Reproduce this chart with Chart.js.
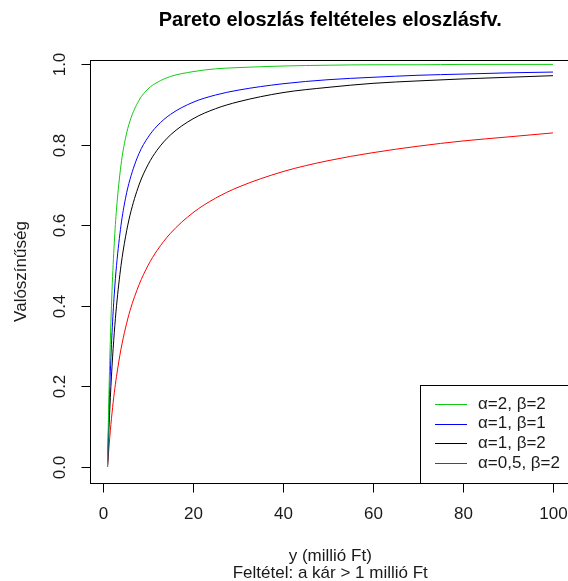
<!DOCTYPE html>
<html>
<head>
<meta charset="utf-8">
<script src="https://cdn.jsdelivr.net/npm/chart.js@4.4.1/dist/chart.umd.min.js"></script>
<style>
html, body { margin: 0; padding: 0; background: #fff; overflow: hidden; }
#wrap { width: 574px; height: 581px; }
</style>
</head>
<body>
<div id="wrap"><canvas id="chart" width="574" height="581"></canvas></div>
<script>
const yPoints = [1, 1.25, 1.5, 2, 2.5, 3, 4, 5, 6, 8, 10, 12, 15, 20, 25, 30, 40, 50, 60, 70, 80, 90, 100];

// conditional CDF values
const a2b2   = [0, 0.148, 0.265, 0.438, 0.556, 0.640, 0.750, 0.816, 0.859, 0.910, 0.938, 0.954, 0.969, 0.981, 0.988, 0.991, 0.995, 0.997, 0.998, 0.998, 0.999, 0.999, 0.999];
const a1b1   = [0, 0.111, 0.200, 0.333, 0.429, 0.500, 0.600, 0.667, 0.714, 0.778, 0.818, 0.846, 0.875, 0.905, 0.923, 0.935, 0.951, 0.961, 0.967, 0.972, 0.975, 0.978, 0.980];
const a1b2   = [0, 0.077, 0.143, 0.250, 0.333, 0.400, 0.500, 0.571, 0.625, 0.700, 0.750, 0.786, 0.824, 0.864, 0.889, 0.906, 0.929, 0.942, 0.952, 0.958, 0.963, 0.967, 0.971];
const a05b2  = [0, 0.039, 0.074, 0.134, 0.184, 0.225, 0.293, 0.345, 0.388, 0.452, 0.500, 0.537, 0.580, 0.631, 0.667, 0.694, 0.733, 0.760, 0.780, 0.796, 0.809, 0.819, 0.829];

const seriesNames = ['\u03b1=2, \u03b2=2', '\u03b1=1, \u03b2=1', '\u03b1=1, \u03b2=2', '\u03b1=0,5, \u03b2=2'];
const seriesColors = ['#10cc10', '#0000ff', '#000000', '#ff0000'];

const xTicks = [0, 20, 40, 60, 80, 100];
const yTicks = [0, 0.2, 0.4, 0.6, 0.8, 1.0];
const yTickLabels = ['0.0', '0.2', '0.4', '0.6', '0.8', '1.0'];

function toPoints(vals) {
    return yPoints.map((x, i) => ({ x: x, y: vals[i] }));
}

const FONT = '"Liberation Sans", Arial, sans-serif';
const TEXT = '#1a1a1a';

// R-style box, axes, titles and legend
const rStyle = {
    id: 'rStyle',
    afterDraw(chart) {
        const ctx = chart.ctx;
        const a = chart.chartArea;
        const xs = chart.scales.x;
        const ys = chart.scales.y;
        ctx.save();
        ctx.strokeStyle = '#000';
        ctx.lineWidth = 1;

        const L = Math.round(a.left) + 0.5, T = Math.round(a.top) + 0.5;
        const R = Math.round(a.right) + 0.5, B = Math.round(a.bottom) + 0.5;
        ctx.strokeRect(L, T, R - L, B - T);

        // x axis
        ctx.fillStyle = TEXT;
        ctx.font = '17px ' + FONT;
        ctx.textAlign = 'center';
        ctx.textBaseline = 'middle';
        xTicks.forEach(v => {
            const px = Math.round(xs.getPixelForValue(v)) + 0.5;
            ctx.beginPath();
            ctx.moveTo(px, B);
            ctx.lineTo(px, B + 9);
            ctx.stroke();
            ctx.fillText(String(v), px, B + 31);
        });

        // y axis (labels rotated like R)
        yTicks.forEach((v, i) => {
            const py = Math.round(ys.getPixelForValue(v)) + 0.5;
            ctx.beginPath();
            ctx.moveTo(L, py);
            ctx.lineTo(L - 9, py);
            ctx.stroke();
            ctx.save();
            ctx.translate(L - 30, py);
            ctx.rotate(-Math.PI / 2);
            ctx.fillText(yTickLabels[i], 0, 0);
            ctx.restore();
        });

        // axis titles
        const cx = (a.left + a.right) / 2;
        const cy = (a.top + a.bottom) / 2;
        ctx.fillText('y (millió Ft)', cx, 556);
        ctx.fillText('Feltétel: a kár > 1 millió Ft', cx, 573);
        ctx.save();
        ctx.translate(21, cy);
        ctx.rotate(-Math.PI / 2);
        ctx.fillText('Valószínűség', 0, 0);
        ctx.restore();

        // main title
        ctx.fillStyle = '#000';
        ctx.font = 'bold 20px ' + FONT;
        ctx.fillText('Pareto eloszlás feltételes eloszlásfv.', cx, 20);

        // legend
        const lx = 420.5, ly = 385.5;
        ctx.fillStyle = '#fff';
        ctx.fillRect(lx, ly, chart.width - lx + 2, B - ly);
        ctx.strokeRect(lx, ly, chart.width - lx + 2, B - ly);
        ctx.font = '17px ' + FONT;
        ctx.textAlign = 'left';
        seriesNames.forEach((name, i) => {
            const ry = 404 + i * 19.7;
            ctx.strokeStyle = seriesColors[i];
            ctx.beginPath();
            ctx.moveTo(435, Math.round(ry) + 0.5);
            ctx.lineTo(467, Math.round(ry) + 0.5);
            ctx.stroke();
            ctx.fillStyle = TEXT;
            ctx.fillText(name, 478, ry);
        });
        ctx.restore();
    }
};

const datasets = [a2b2, a1b1, a1b2, a05b2].map((vals, i) => ({
    label: seriesNames[i],
    data: toPoints(vals),
    borderColor: seriesColors[i],
    borderWidth: 1,
    pointRadius: 0,
    cubicInterpolationMode: 'monotone',
    fill: false
}));

new Chart(document.getElementById('chart'), {
    type: 'line',
    data: { datasets: datasets },
    options: {
        responsive: false,
        animation: false,
        layout: { padding: { left: 89.7, top: 60, right: 3.2, bottom: 98 } },
        plugins: { legend: { display: false }, tooltip: { enabled: false } },
        scales: {
            x: { type: 'linear', display: false, min: -2.96, max: 103.96 },
            y: { type: 'linear', display: false, min: -0.0397, max: 1.0099 }
        }
    },
    plugins: [rStyle]
});
</script>
</body>
</html>
